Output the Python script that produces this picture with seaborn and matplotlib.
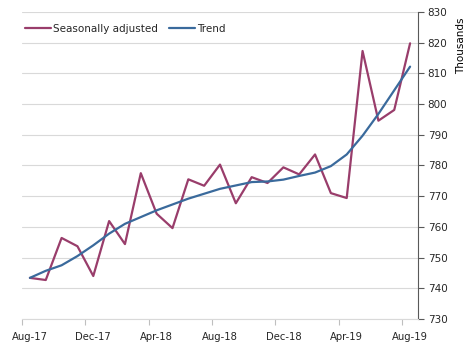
import matplotlib
matplotlib.use("Agg")
import matplotlib.pyplot as plt
import seaborn as sns
import pandas as pd
import numpy as np

months = ["Aug-17", "Sep-17", "Oct-17", "Nov-17", "Dec-17", "Jan-18", "Feb-18", "Mar-18",
          "Apr-18", "May-18", "Jun-18", "Jul-18", "Aug-18", "Sep-18", "Oct-18", "Nov-18",
          "Dec-18", "Jan-19", "Feb-19", "Mar-19", "Apr-19", "May-19", "Jun-19", "Jul-19", "Aug-19"]
seasonally_adjusted = [743.4, 742.7, 756.4, 753.7, 744.0, 761.9, 754.4, 777.5,
                       764.3, 759.6, 775.5, 773.4, 780.3, 767.7, 776.2, 774.3,
                       779.4, 777.1, 783.6, 771.0, 769.4, 817.3, 794.6, 798.1, 819.8]
trend = [743.4, 745.7, 747.5, 750.5, 754.0, 757.8, 761.0, 763.2,
         765.4, 767.3, 769.2, 770.8, 772.4, 773.5, 774.6, 774.8,
         775.4, 776.6, 777.7, 779.8, 783.6, 789.7, 796.8, 804.5, 812.2]
tick_labels = ["Aug-17", "Dec-17", "Apr-18", "Aug-18", "Dec-18", "Apr-19", "Aug-19"]

sns.set_style("white")
plt.rcParams['font.family'] = ['DejaVu Sans']

df = pd.DataFrame({
    "idx": list(range(len(months))) * 2,
    "value": seasonally_adjusted + trend,
    "series": ["Seasonally adjusted"] * len(months) + ["Trend"] * len(months),
})

fig = plt.figure(figsize=(4.69, 3.48), dpi=100)
ax = fig.add_axes([22 / 469, 1 - 319 / 348, (418 - 22) / 469, (319 - 12) / 348])

sns.lineplot(data=df, x="idx", y="value", hue="series",
             palette={"Seasonally adjusted": "#993D6B", "Trend": "#3A6A9C"},
             linewidth=1.6, ax=ax, legend=True)

ax.set_xlim(-0.5, len(months) - 0.5)
ax.set_ylim(730, 830)
ax.set_yticks(np.arange(730, 831, 10))
ax.yaxis.tick_right()
ax.yaxis.set_label_position("right")
ax.set_ylabel("Thousands", fontsize=7.5, color="#000000")
ax.yaxis.set_label_coords((456 - 22) / 396, (319 - 46) / 307)
ax.yaxis.label.set_verticalalignment("top")
ax.yaxis.label.set_horizontalalignment("center")
ax.set_xlabel("")
ax.grid(axis="y", color="#D9D9D9", linewidth=0.8)
ax.set_axisbelow(True)

pos = [months.index(t) for t in tick_labels]
ax.set_xticks(pos)
ax.set_xticklabels(tick_labels, fontsize=7.2)
ax.set_xticks([p - 0.5 for p in pos], minor=True)
ax.tick_params(axis="x", which="major", length=0, pad=9)
ax.tick_params(axis="x", which="minor", length=4, color="#BFBFBF", width=0.8, bottom=True)
ax.tick_params(axis="y", which="major", length=4, color="#595959", width=0.8,
               labelsize=7.5, right=True, left=False, pad=3)

for s in ["top", "left"]:
    ax.spines[s].set_visible(False)
ax.spines["bottom"].set_color("#D9D9D9")
ax.spines["bottom"].set_linewidth(0.8)
ax.spines["right"].set_color("#595959")
ax.spines["right"].set_linewidth(0.8)

leg = ax.legend(loc="upper left", bbox_to_anchor=(-0.01, 0.985), ncol=2, frameon=False,
                fontsize=7.5, handlelength=2.5, handletextpad=0.2, columnspacing=1.0,
                borderaxespad=0.3)
for line in leg.get_lines():
    line.set_linewidth(1.6)

fig.savefig("out.png", dpi=100)
